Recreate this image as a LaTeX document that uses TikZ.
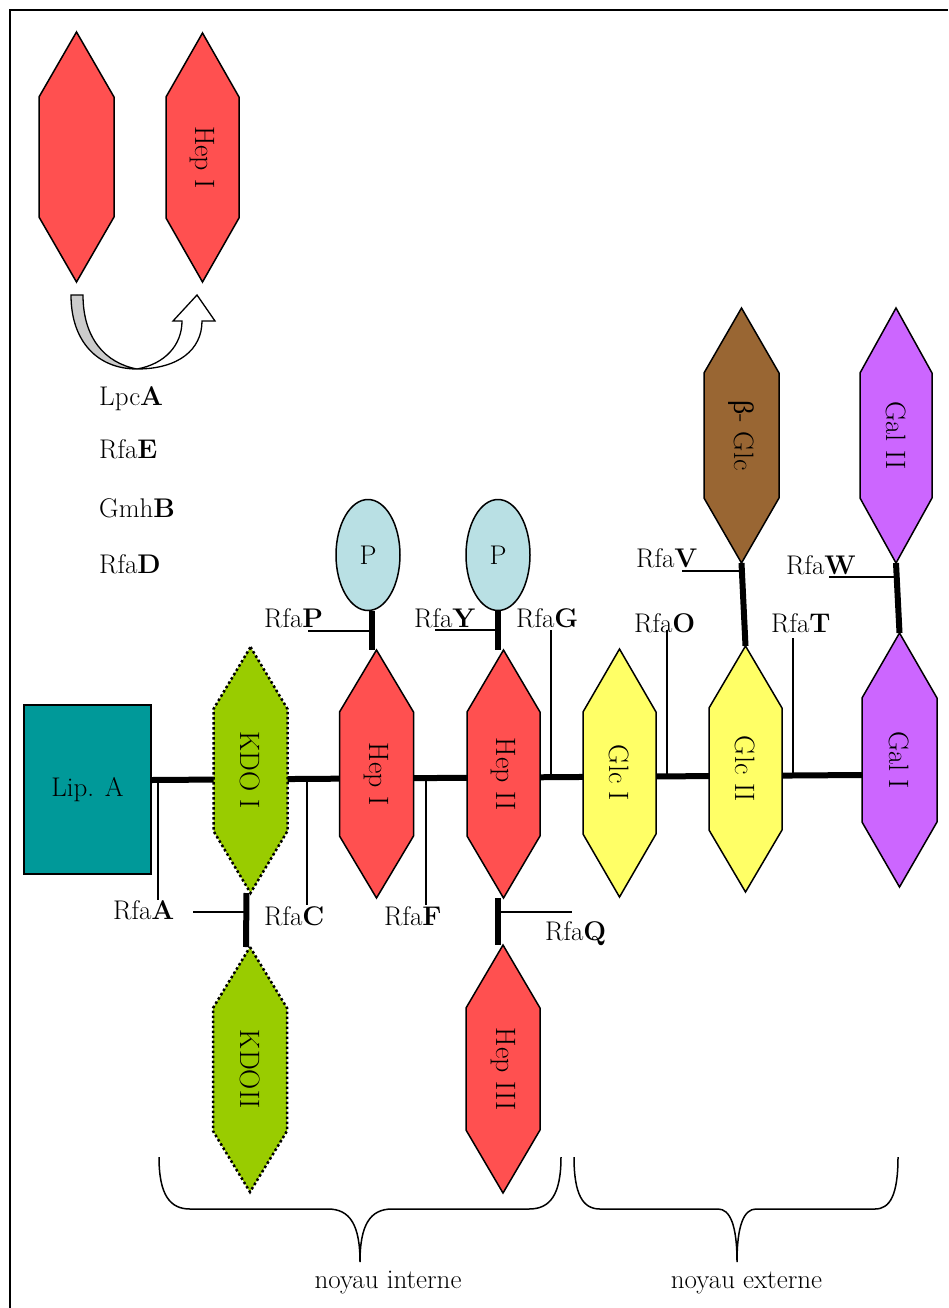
\documentclass[tikz,border=0pt]{standalone}
\usepackage{fontspec}
\newfontfamily\grk{Liberation Serif}
\usetikzlibrary{calc,shapes.geometric}
\pgfdeclarelayer{bg}
\pgfsetlayers{bg,main}

\definecolor{hepred}{HTML}{FF5050}
\definecolor{kdogreen}{HTML}{99CC00}
\definecolor{glcyellow}{HTML}{FFFF66}
\definecolor{galviolet}{HTML}{CC66FF}
\definecolor{glcbrown}{HTML}{996633}
\definecolor{lipteal}{HTML}{009999}
\definecolor{phosblue}{HTML}{B9E0E4}
\definecolor{arrowgrey}{HTML}{CCCCCC}

\tikzset{
  lbl/.style={font=\fontsize{27}{32}\selectfont, inner sep=0pt},
  sugartext/.style={font=\fontsize{28}{32}\selectfont, rotate=-90, inner sep=0pt},
  hep/.style={fill=hepred, draw=black, line width=1.5pt},
  kdo/.style={fill=kdogreen, draw=black, line width=2.5pt, dash pattern=on 2.5pt off 2.5pt},
  glc/.style={fill=glcyellow, draw=black, line width=1.5pt},
  gal/.style={fill=galviolet, draw=black, line width=1.5pt},
  bglc/.style={fill=glcbrown, draw=black, line width=1.5pt},
  lipbox/.style={fill=lipteal, draw=black, line width=1.5pt, minimum width=127pt,
    minimum height=169pt, inner sep=0pt, font=\fontsize{27}{32}\selectfont},
  phos/.style={ellipse, fill=phosblue, draw=black, line width=1.5pt, minimum width=64pt,
    minimum height=111pt, inner sep=0pt, font=\fontsize{27}{32}\selectfont},
  bond/.style={line width=6pt},
  tick/.style={line width=1.5pt},
  brace/.style={line width=1.5pt},
}

% elongated hexagon: name, centre x, top y, bottom y, half width, point height, style, text
\newcommand\sugar[8]{%
  \path[#7] (#2,#3) -- (#2+#5,#3+#6) -- (#2+#5,#4-#6) -- (#2,#4)
    -- (#2-#5,#4-#6) -- (#2-#5,#3+#6) -- cycle;
  \node[sugartext] (#1) at ({#2},{(#3+#4)/2}) {#8};
  \coordinate (#1-n) at (#2,#3);
  \coordinate (#1-s) at (#2,#4);
  \coordinate (#1-w) at ({#2-#5},{(#3+#4)/2});
  \coordinate (#1-e) at ({#2+#5},{(#3+#4)/2});
}

\begin{document}
\begin{tikzpicture}[x=1pt,y=-1pt]
\useasboundingbox (0,0) rectangle (948,1308);

% frame
\draw[line width=2pt] (10,1308) -- (10,10) -- (948,10);

% Hep transfer sketch
\sugar{hepA}{76.5}{32}{282}{37.5}{65}{hep}{}
\sugar{hepB}{202.5}{33}{282}{36.5}{64}{hep}{Hep I}

% curved arrow (LpcA)
\path[fill=arrowgrey, draw=black, line width=1.3pt]
  (71,295) -- (83,295) .. controls (83,338) and (105,363) .. (137,369)
  .. controls (98,369) and (71,342) .. cycle;
\path[fill=white, draw=black, line width=1.3pt]
  (137,369) .. controls (178,369) and (202,350) .. (202,321) -- (215,321) -- (197,295)
  -- (173,321) -- (182,321) .. controls (182,345) and (165,364) .. (137,369) -- cycle;

\node[lbl, anchor=base west] (lpcA) at (99,405) {Lpc\textbf{A}};
\node[lbl, anchor=base west] (rfaE) at (99,458) {Rfa\textbf{E}};
\node[lbl, anchor=base west] (gmhB) at (99,517) {Gmh\textbf{B}};
\node[lbl, anchor=base west] (rfaD) at (99,573) {Rfa\textbf{D}};

% core
\node[lipbox] (lipA) at (87.5,789.5) {Lip. A};
\sugar{kdo1}{250.5}{647}{893}{37}{62}{kdo}{KDO I}
\sugar{kdo2}{250}{947}{1192}{37}{61}{kdo}{KDOII}
\sugar{hep1}{376.5}{650}{898}{37}{62}{hep}{Hep I}
\sugar{hep2}{503.5}{650}{898}{36.5}{62}{hep}{Hep II}
\sugar{hep3}{503}{945}{1193}{37}{63}{hep}{Hep III}
\sugar{glc1}{619.5}{649}{897}{36.5}{63}{glc}{Glc I}
\sugar{glc2}{745.5}{646}{892}{36.5}{62}{glc}{Glc II}
\sugar{gal1}{899.5}{633}{887}{37.5}{65}{gal}{Gal I}
\sugar{bglc}{741.5}{308}{563}{37.5}{65}{bglc}{{\grk β}- Glc}
\sugar{gal2}{896}{308}{563}{36}{65}{gal}{Gal II}
\node[phos] (p1) at (368,555) {P};
\node[phos] (p2) at (498,555) {P};

% linkages
\begin{pgfonlayer}{bg}
  \draw[bond] ([yshift=9.5pt]lipA.east) -- ([yshift=-15pt]gal1-w);
  \draw[bond] ([xshift=-4pt]kdo1-s) -- ([xshift=-4pt]kdo2-n);
  \draw[bond] ([xshift=4pt]p1.south) -- ([xshift=-4.5pt]hep1-n);
  \draw[bond] (p2.south) -- ([xshift=-5.5pt]hep2-n);
  \draw[bond] ([xshift=-5.5pt]hep2-s) -- ([xshift=-5pt]hep3-n);
  \draw[bond] (bglc-s) -- (glc2-n);
  \draw[bond] (gal2-s) -- (gal1-n);
\end{pgfonlayer}

% enzyme markers
\coordinate (a1) at (158,780);  \coordinate (a2) at (158,900);
\coordinate (a3) at (193,912);  \coordinate (a4) at (246,912);
\coordinate (c1) at (307,779);  \coordinate (c2) at (307,905);
\coordinate (f1) at (426,778);  \coordinate (f2) at (426,905);
\coordinate (q1) at (500,912);  \coordinate (q2) at (572,912);
\coordinate (pp1) at (308,631); \coordinate (pp2) at (372,631);
\coordinate (y1) at (435,630);  \coordinate (y2) at (498,630);
\coordinate (g1) at (551,630);  \coordinate (g2) at (551,777);
\coordinate (o1) at (667,630);  \coordinate (o2) at (667,777);
\coordinate (t1) at (793,638);  \coordinate (t2) at (793,776);
\coordinate (v1) at (682,571);  \coordinate (v2) at (743,571);
\coordinate (w1) at (829,577);  \coordinate (w2) at (897,577);
\foreach \u/\v in {a1/a2,a3/a4,c1/c2,f1/f2,q1/q2,pp1/pp2,y1/y2,g1/g2,o1/o2,t1/t2,v1/v2,w1/w2}
  \draw[tick] (\u) -- (\v);

\node[lbl, anchor=base west] (rfaA) at (113,919) {Rfa\textbf{A}};
\node[lbl, anchor=base west] (rfaC) at (264,925) {Rfa\textbf{C}};
\node[lbl, anchor=base west] (rfaF) at (384,925) {Rfa\textbf{F}};
\node[lbl, anchor=base west] (rfaQ) at (545,940) {Rfa\textbf{Q}};
\node[lbl, anchor=base west] (rfaP) at (264,627) {Rfa\textbf{P}};
\node[lbl, anchor=base west] (rfaY) at (414,627) {Rfa\textbf{Y}};
\node[lbl, anchor=base west] (rfaG) at (516,627) {Rfa\textbf{G}};
\node[lbl, anchor=base west] (rfaO) at (634,632) {Rfa\textbf{O}};
\node[lbl, anchor=base west] (rfaT) at (771,632) {Rfa\textbf{T}};
\node[lbl, anchor=base west] (rfaV) at (636,567) {Rfa\textbf{V}};
\node[lbl, anchor=base west] (rfaW) at (786,574) {Rfa\textbf{W}};

% braces
\draw[brace] (159,1157) .. controls (159,1195) and (170,1209) .. (190,1209) -- (328,1209)
  .. controls (350,1209) and (360,1225) .. (360,1262)
  .. controls (360,1225) and (370,1209) .. (392,1209) -- (529,1209)
  .. controls (550,1209) and (561,1195) .. (561,1157);
\draw[brace] (574,1157) .. controls (574,1195) and (583,1209) .. (600,1209) -- (718,1209)
  .. controls (730,1209) and (737,1225) .. (737,1262)
  .. controls (737,1225) and (744,1209) .. (756,1209) -- (875,1209)
  .. controls (890,1209) and (898,1195) .. (898,1157);
\node[lbl, anchor=base] (inner) at (388,1288) {noyau interne};
\node[lbl, anchor=base] (outer) at (746.5,1288) {noyau externe};
\end{tikzpicture}
\end{document}
